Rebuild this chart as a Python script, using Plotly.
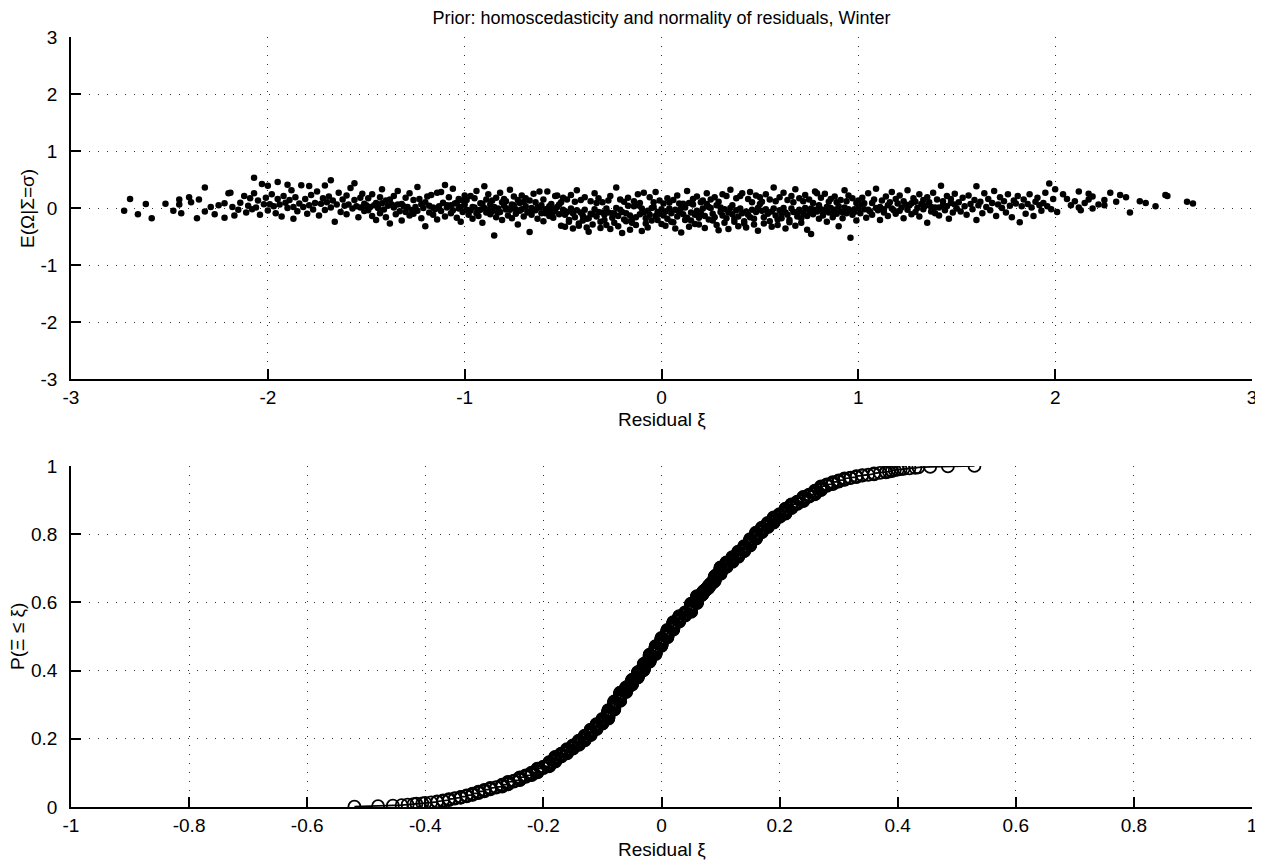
import plotly.graph_objects as go
import plotly.express as px
from plotly.subplots import make_subplots

# Scatter points (residual xi, E(Omega|Sigma=sigma)), split by x region
pts_far_left = [(-2.73, -0.05), (-2.70, 0.16), (-2.66, -0.11), (-2.62, 0.072), (-2.59, -0.18), (-2.52, 0.076),
                (-2.48, -0.05), (-2.45, 0.15), (-2.45, 0.06), (-2.44, -0.09), (-2.40, 0.19), (-2.39, 0.10),
                (-2.36, -0.18), (-2.35, 0.15), (-2.32, 0.36), (-2.32, -0.06), (-2.29, 0.02), (-2.27, -0.11),
                (-2.25, 0.05), (-2.22, 0.085), (-2.22, -0.17), (-2.20, 0.26), (-2.19, 0.27), (-2.18, 0.02),
                (-2.17, -0.13), (-2.15, -0.03), (-2.14, 0.093), (-2.12, 0.21), (-2.11, -0.08), (-2.10, 0.04),
                (-2.09, 0.17), (-2.08, -0.02)]

pts_left = [(-2.07, 0.53), (-2.07, 0.26), (-2.06, 0.01), (-2.05, 0.13), (-2.04, -0.12), (-2.03, 0.42),
            (-2.02, 0.068), (-2.01, 0.18), (-2.00, 0.39), (-2.00, -0.045), (-1.99, 0.067), (-1.98, 0.24),
            (-1.97, 0.03), (-1.96, -0.09), (-1.95, 0.455), (-1.95, 0.16), (-1.94, 0.06), (-1.93, -0.15),
            (-1.92, 0.21), (-1.91, 0.091), (-1.90, 0.41), (-1.90, 0.00), (-1.89, 0.14), (-1.88, 0.31),
            (-1.87, -0.19), (-1.87, 0.02), (-1.86, 0.19), (-1.85, -0.055), (-1.84, 0.081), (-1.83, 0.40),
            (-1.82, 0.02), (-1.81, 0.16), (-1.80, -0.10), (-1.79, 0.385), (-1.79, 0.05), (-1.78, 0.23),
            (-1.77, -0.025), (-1.76, 0.089), (-1.75, 0.29), (-1.74, -0.13), (-1.73, 0.077), (-1.72, 0.17),
            (-1.71, 0.395), (-1.71, -0.035), (-1.70, 0.10), (-1.69, 0.20), (-1.68, 0.485), (-1.68, 0.01),
            (-1.67, 0.13), (-1.66, -0.24), (-1.65, 0.06), (-1.64, 0.27), (-1.63, -0.07), (-1.62, 0.15),
            (-1.61, 0.04), (-1.60, 0.22), (-1.60, -0.11), (-1.59, 0.06), (-1.58, 0.35), (-1.57, -0.01),
            (-1.56, 0.435), (-1.56, 0.14), (-1.55, 0.03), (-1.54, -0.16), (-1.53, 0.18), (-1.53, 0.01),
            (-1.52, 0.25), (-1.51, -0.052), (-1.51, 0.073), (-1.50, 0.00)]

pts_mid_left = [(-1.50, 0.05), (-1.49, -0.041), (-1.49, 0.17), (-1.48, 0.02), (-1.47, -0.14), (-1.47, 0.24),
                (-1.46, 0.05), (-1.45, 0.086), (-1.45, -0.21), (-1.44, 0.00), (-1.43, 0.19), (-1.43, -0.09),
                (-1.42, 0.083), (-1.42, 0.33), (-1.41, -0.028), (-1.40, 0.13), (-1.40, -0.16), (-1.39, 0.04),
                (-1.38, -0.27), (-1.38, 0.15), (-1.37, 0.06), (-1.36, 0.01), (-1.36, 0.21), (-1.35, -0.11),
                (-1.34, 0.06), (-1.34, 0.30), (-1.33, -0.058), (-1.32, 0.07), (-1.32, -0.22), (-1.31, 0.03),
                (-1.30, 0.18), (-1.30, -0.07), (-1.29, 0.02), (-1.28, -0.13), (-1.28, 0.26), (-1.27, -0.033),
                (-1.26, 0.14), (-1.26, -0.10), (-1.25, 0.02), (-1.24, 0.37), (-1.24, -0.047), (-1.23, 0.16),
                (-1.22, -0.18), (-1.22, 0.066), (-1.21, 0.00), (-1.20, 0.10), (-1.20, -0.32), (-1.19, 0.20),
                (-1.18, -0.08), (-1.18, 0.04), (-1.17, 0.23), (-1.16, -0.12), (-1.16, 0.01), (-1.15, -0.022),
                (-1.14, 0.27), (-1.14, -0.20), (-1.13, 0.03), (-1.12, 0.28), (-1.12, -0.054), (-1.11, 0.092),
                (-1.10, 0.405), (-1.10, -0.15), (-1.09, 0.05), (-1.09, 0.01), (-1.08, 0.19), (-1.07, -0.09),
                (-1.07, 0.05), (-1.06, 0.34), (-1.06, -0.038), (-1.05, 0.078), (-1.04, -0.17), (-1.04, 0.094),
                (-1.03, -0.01), (-1.03, 0.16), (-1.02, -0.24), (-1.02, 0.02), (-1.01, 0.13), (-1.01, -0.07),
                (-1.00, 0.06), (-1.00, 0.22)]

pts_center_left = [(-0.99, -0.03), (-0.99, 0.14), (-0.98, -0.12), (-0.98, -0.05), (-0.97, 0.21), (-0.97, -0.043),
                   (-0.96, 0.02), (-0.96, -0.19), (-0.95, 0.01), (-0.95, 0.17), (-0.94, -0.09), (-0.94, 0.30),
                   (-0.93, -0.04), (-0.93, -0.14), (-0.92, 0.084), (-0.92, -0.031), (-0.91, 0.074), (-0.91, -0.26),
                   (-0.90, 0.38), (-0.90, 0.00), (-0.89, 0.15), (-0.89, -0.08), (-0.88, -0.03), (-0.88, 0.24),
                   (-0.87, -0.11), (-0.87, 0.06), (-0.86, -0.056), (-0.86, 0.13), (-0.85, -0.48), (-0.85, 0.02),
                   (-0.84, 0.18), (-0.84, -0.16), (-0.83, -0.08), (-0.83, -0.01), (-0.82, 0.27), (-0.82, -0.07),
                   (-0.81, 0.10), (-0.81, -0.21), (-0.80, 0.04), (-0.80, 0.16), (-0.79, -0.026), (-0.79, 0.12),
                   (-0.78, -0.13), (-0.78, -0.01), (-0.77, 0.32), (-0.77, -0.03), (-0.76, 0.06), (-0.76, -0.18),
                   (-0.75, 0.05), (-0.75, 0.20), (-0.74, -0.10), (-0.74, -0.02), (-0.73, 0.14), (-0.73, -0.29),
                   (-0.72, 0.088), (-0.72, -0.049), (-0.71, 0.22), (-0.71, -0.02), (-0.70, 0.11), (-0.70, -0.15),
                   (-0.69, 0.03), (-0.69, 0.17), (-0.68, -0.08), (-0.68, -0.06), (-0.67, -0.42), (-0.67, 0.13),
                   (-0.66, 0.00), (-0.66, -0.12), (-0.65, 0.25), (-0.65, -0.04), (-0.64, -0.04), (-0.64, 0.10),
                   (-0.63, -0.19), (-0.63, 0.01), (-0.62, 0.01), (-0.62, 0.29), (-0.61, -0.09), (-0.61, 0.05),
                   (-0.60, -0.23), (-0.60, 0.15), (-0.59, -0.02), (-0.59, -0.09), (-0.58, 0.29), (-0.58, -0.07),
                   (-0.57, 0.03), (-0.57, -0.14), (-0.56, 0.071), (-0.56, -0.01), (-0.55, -0.07), (-0.55, -0.17),
                   (-0.54, 0.21), (-0.54, -0.05), (-0.53, 0.02), (-0.53, 0.22), (-0.52, -0.11), (-0.52, 0.06),
                   (-0.51, -0.31), (-0.51, 0.10), (-0.50, -0.03), (-0.50, 0.18)]

pts_center = [(-0.49, -0.33), (-0.49, -0.12), (-0.48, 0.15), (-0.48, -0.07), (-0.47, -0.21), (-0.47, -0.24),
              (-0.46, -0.01), (-0.46, 0.23), (-0.45, -0.09), (-0.45, -0.36), (-0.44, -0.16), (-0.44, 0.11),
              (-0.43, -0.04), (-0.43, 0.31), (-0.42, -0.27), (-0.42, -0.31), (-0.41, -0.08), (-0.41, 0.14),
              (-0.40, -0.22), (-0.40, -0.13), (-0.39, 0.19), (-0.39, -0.03), (-0.38, -0.34), (-0.38, -0.19),
              (-0.37, -0.18), (-0.37, -0.415), (-0.36, 0.12), (-0.36, -0.10), (-0.35, -0.29), (-0.35, -0.11),
              (-0.34, 0.26), (-0.34, -0.02), (-0.33, -0.15), (-0.33, 0.09), (-0.32, -0.07), (-0.32, 0.17),
              (-0.31, -0.24), (-0.31, -0.35), (-0.30, -0.08), (-0.30, 0.10), (-0.29, -0.12), (-0.29, -0.21),
              (-0.28, -0.01), (-0.28, -0.30), (-0.27, 0.13), (-0.27, -0.08), (-0.26, -0.37), (-0.26, 0.21),
              (-0.25, -0.17), (-0.25, -0.09), (-0.24, -0.26), (-0.24, -0.10), (-0.23, 0.00), (-0.23, 0.36),
              (-0.22, -0.14), (-0.22, -0.32), (-0.21, -0.03), (-0.21, 0.15), (-0.20, -0.44), (-0.20, -0.07),
              (-0.19, 0.11), (-0.19, -0.20), (-0.18, -0.23), (-0.18, -0.09), (-0.17, 0.18), (-0.17, 0.04),
              (-0.16, -0.13), (-0.16, -0.38), (-0.15, -0.26), (-0.15, -0.19), (-0.14, 0.12), (-0.14, 0.03),
              (-0.13, -0.16), (-0.13, -0.30), (-0.12, 0.24), (-0.12, 0.05), (-0.11, -0.11), (-0.11, 0.09),
              (-0.10, -0.01), (-0.10, -0.405), (-0.09, 0.27), (-0.09, -0.08), (-0.08, -0.27), (-0.08, -0.18),
              (-0.07, -0.34), (-0.07, -0.05), (-0.06, 0.19), (-0.06, -0.12), (-0.05, 0.00), (-0.05, -0.22),
              (-0.04, 0.10), (-0.04, 0.02), (-0.03, -0.14), (-0.03, 0.28), (-0.02, -0.07), (-0.02, -0.21),
              (-0.01, -0.10), (-0.01, 0.13), (0.00, -0.02), (0.00, -0.28)]

pts_center_right = [(0.01, 0.08), (0.01, -0.13), (0.02, -0.31), (0.02, -0.06), (0.03, 0.17), (0.03, -0.19),
                    (0.04, -0.01), (0.04, 0.095), (0.05, -0.09), (0.05, -0.24), (0.06, -0.25), (0.06, 0.14),
                    (0.07, -0.03), (0.07, -0.36), (0.08, -0.15), (0.08, 0.22), (0.09, -0.07), (0.09, 0.079),
                    (0.10, 0.00), (0.10, -0.43), (0.11, 0.075), (0.11, -0.11), (0.12, -0.21), (0.12, 0.01),
                    (0.13, 0.30), (0.13, -0.17), (0.14, -0.33), (0.14, 0.09), (0.15, -0.08), (0.15, -0.22),
                    (0.16, 0.16), (0.16, 0.06), (0.17, -0.28), (0.17, -0.12), (0.18, 0.20), (0.18, -0.05),
                    (0.19, -0.17), (0.19, -0.29), (0.20, 0.10), (0.20, -0.09), (0.21, -0.01), (0.21, 0.13),
                    (0.22, -0.14), (0.22, -0.35), (0.23, 0.26), (0.23, 0.069), (0.24, 0.02), (0.24, -0.20),
                    (0.25, 0.00), (0.25, 0.15), (0.26, -0.10), (0.26, -0.22), (0.27, -0.16), (0.27, 0.19),
                    (0.28, 0.05), (0.28, -0.30), (0.29, -0.39), (0.29, 0.11), (0.30, 0.01), (0.30, -0.07),
                    (0.31, 0.24), (0.31, -0.13), (0.32, -0.26), (0.32, -0.02), (0.33, 0.21), (0.33, -0.18),
                    (0.34, -0.37), (0.34, -0.08), (0.35, 0.32), (0.35, 0.00), (0.36, -0.11), (0.36, 0.05),
                    (0.37, -0.24), (0.37, -0.19), (0.38, 0.17), (0.38, -0.04), (0.39, -0.32), (0.39, -0.15),
                    (0.40, 0.21), (0.40, -0.01), (0.41, -0.09), (0.41, 0.26), (0.42, -0.23), (0.42, -0.27),
                    (0.43, -0.34), (0.43, -0.06), (0.44, 0.16), (0.44, -0.12), (0.45, -0.16), (0.45, 0.28),
                    (0.46, -0.03), (0.46, 0.10), (0.47, -0.19), (0.47, -0.29), (0.48, 0.22), (0.48, -0.07),
                    (0.49, 0.00), (0.49, -0.40), (0.50, 0.07), (0.50, 0.19)]

pts_mid_right = [(0.51, -0.05), (0.51, 0.11), (0.52, -0.27), (0.52, -0.16), (0.53, 0.24), (0.53, -0.02),
                 (0.54, -0.08), (0.54, -0.10), (0.55, 0.15), (0.55, -0.23), (0.56, -0.33), (0.56, -0.06),
                 (0.57, 0.36), (0.57, -0.01), (0.58, -0.13), (0.58, 0.12), (0.59, -0.20), (0.59, -0.30),
                 (0.60, 0.19), (0.60, -0.04), (0.61, -0.09), (0.61, -0.18), (0.62, 0.00), (0.62, 0.27),
                 (0.63, -0.08), (0.63, -0.36), (0.64, 0.14), (0.64, -0.12), (0.65, -0.25), (0.65, -0.21),
                 (0.66, 0.21), (0.66, -0.01), (0.67, 0.10), (0.67, -0.07), (0.68, 0.33), (0.68, -0.31),
                 (0.69, -0.15), (0.69, -0.07), (0.70, -0.03), (0.70, 0.17), (0.71, -0.26), (0.71, -0.18),
                 (0.72, 0.12), (0.72, -0.09), (0.73, 0.00), (0.73, 0.23), (0.74, -0.14), (0.74, -0.38),
                 (0.75, -0.05), (0.75, 0.15), (0.76, -0.01), (0.76, -0.455), (0.77, 0.09), (0.77, -0.11),
                 (0.78, 0.29), (0.78, -0.03), (0.79, -0.06), (0.79, 0.26), (0.80, -0.19), (0.80, 0.05),
                 (0.81, 0.18), (0.81, -0.02), (0.82, -0.08), (0.82, -0.13), (0.83, 0.25), (0.83, -0.04),
                 (0.84, 0.02), (0.84, -0.24), (0.85, 0.11), (0.85, -0.08), (0.86, 0.16), (0.86, 0.00),
                 (0.87, -0.16), (0.87, -0.06), (0.88, 0.20), (0.88, -0.03), (0.89, 0.10), (0.89, -0.10),
                 (0.90, 0.03), (0.90, -0.32), (0.91, 0.14), (0.91, -0.06), (0.92, -0.07), (0.92, -0.18),
                 (0.93, 0.31), (0.93, 0.01), (0.94, -0.09), (0.94, 0.12), (0.95, -0.02), (0.95, 0.22),
                 (0.96, -0.52), (0.96, -0.05), (0.97, -0.12), (0.97, 0.17), (0.98, -0.02), (0.98, -0.07),
                 (0.99, 0.09), (0.99, -0.22), (1.00, 0.13), (1.00, -0.01)]

pts_right = [(1.01, 0.06), (1.01, -0.09), (1.02, 0.18), (1.03, -0.02), (1.03, 0.083), (1.04, -0.17),
             (1.05, -0.03), (1.05, 0.26), (1.06, -0.06), (1.07, 0.087), (1.07, -0.12), (1.08, 0.15),
             (1.09, 0.00), (1.09, 0.34), (1.10, -0.04), (1.11, 0.02), (1.11, -0.21), (1.12, 0.13),
             (1.13, -0.02), (1.13, -0.08), (1.14, 0.20), (1.15, 0.05), (1.15, -0.14), (1.16, 0.10),
             (1.17, -0.01), (1.17, 0.28), (1.18, -0.04), (1.19, -0.10), (1.19, 0.16), (1.20, 0.08),
             (1.21, -0.05), (1.21, 0.22), (1.22, 0.01), (1.23, -0.18), (1.23, 0.12), (1.24, 0.06),
             (1.25, -0.03), (1.25, 0.31), (1.26, 0.05), (1.27, -0.11), (1.27, 0.082), (1.28, 0.17),
             (1.29, -0.07), (1.29, 0.11), (1.30, 0.00), (1.31, 0.24), (1.31, -0.15), (1.32, 0.071),
             (1.33, 0.14), (1.33, -0.02), (1.34, 0.04), (1.35, -0.26), (1.35, 0.19), (1.36, 0.10),
             (1.37, -0.06), (1.37, 0.02), (1.38, 0.27), (1.39, 0.01), (1.39, -0.09), (1.40, 0.15),
             (1.41, 0.01), (1.41, -0.13), (1.42, 0.39), (1.43, 0.05), (1.43, 0.12), (1.44, -0.04),
             (1.45, 0.21), (1.45, 0.03), (1.46, -0.19), (1.47, 0.09), (1.47, 0.16), (1.48, -0.08),
             (1.49, 0.06), (1.49, 0.25), (1.50, -0.01)]

pts_far_right = [(1.51, 0.10), (1.52, -0.06), (1.53, 0.18), (1.54, 0.03), (1.55, -0.12), (1.56, 0.22),
                 (1.57, 0.07), (1.58, -0.02), (1.59, 0.14), (1.60, 0.38), (1.60, -0.21), (1.61, 0.05),
                 (1.62, 0.11), (1.63, -0.09), (1.64, 0.26), (1.65, 0.02), (1.66, 0.16), (1.67, -0.04),
                 (1.68, 0.09), (1.69, 0.30), (1.70, -0.14), (1.71, 0.06), (1.72, 0.19), (1.73, 0.00),
                 (1.74, 0.12), (1.75, -0.08), (1.76, 0.24), (1.77, 0.04), (1.78, -0.16), (1.79, 0.13),
                 (1.80, 0.08), (1.81, 0.21), (1.82, -0.25), (1.83, 0.03), (1.84, 0.15), (1.85, -0.10),
                 (1.86, 0.07), (1.87, 0.24), (1.88, 0.01), (1.89, -0.14), (1.90, 0.11), (1.91, 0.18),
                 (1.92, 0.05), (1.93, -0.05), (1.94, 0.09), (1.95, 0.27), (1.96, 0.03), (1.97, 0.43),
                 (1.98, -0.02), (1.99, 0.16), (2.00, 0.33)]

pts_tail_right = [(2.01, -0.07), (2.04, 0.24), (2.06, 0.16), (2.08, 0.05), (2.10, 0.12), (2.12, 0.29),
                  (2.12, 0.01), (2.13, -0.04), (2.15, 0.09), (2.17, 0.25), (2.17, 0.15), (2.19, -0.01),
                  (2.19, 0.20), (2.22, 0.06), (2.25, 0.14), (2.25, 0.05), (2.28, 0.27), (2.31, 0.11),
                  (2.33, 0.23), (2.36, 0.19), (2.38, -0.08), (2.43, 0.12), (2.46, 0.09), (2.51, 0.03),
                  (2.56, 0.23), (2.57, 0.21), (2.67, 0.11), (2.70, 0.08)]

# Tick labels
top_ticks = [-3, -2, -1, 0, 1, 2, 3]
top_tick_text = ["-3", "-2", "-1", "0", "1", "2", "3"]
bottom_x_ticks = [-1, -0.8, -0.6, -0.4, -0.2, 0, 0.2, 0.4, 0.6, 0.8, 1]
bottom_x_text = ["-1", "-0.8", "-0.6", "-0.4", "-0.2", "0", "0.2", "0.4", "0.6", "0.8", "1"]
bottom_y_ticks = [0, 0.2, 0.4, 0.6, 0.8, 1]
bottom_y_text = ["0", "0.2", "0.4", "0.6", "0.8", "1"]

all_pts = (pts_far_left + pts_left + pts_mid_left + pts_center_left + pts_center
           + pts_center_right + pts_mid_right + pts_right + pts_far_right + pts_tail_right)
resid_x = [p[0] for p in all_pts]
resid_y = [p[1] for p in all_pts]

FONT = "Liberation Sans, Arial, Helvetica, sans-serif"

fig = make_subplots(rows=2, cols=1)

# Top: scatter of residuals
fig.add_trace(go.Scatter(
    x=resid_x, y=resid_y, mode="markers",
    marker=dict(color="black", size=6.5, line=dict(width=0)),
), row=1, col=1)

# Bottom: empirical CDF of the same residuals, computed by plotly express
ecdf = px.ecdf(x=resid_y, markers=True)
ecdf_trace = ecdf.data[0]
ecdf_trace.update(
    mode="lines+markers",
    line=dict(color="black", width=1.8, shape="linear"),
    marker=dict(symbol="circle-open", size=12, color="black", line=dict(width=1.8, color="black")),
    showlegend=False,
)
fig.add_trace(ecdf_trace, row=2, col=1)

axis_style = dict(
    showline=True, linecolor="black", linewidth=1.5, mirror=False,
    ticks="inside", ticklen=10, tickwidth=1.5, tickcolor="black",
    showgrid=True, gridcolor="#333333", gridwidth=1, griddash="1px,8px",
    zeroline=False, automargin=False,
    tickfont=dict(size=19, color="black", family=FONT),
)

fig.update_xaxes(axis_style, ticklabelstandoff=0)
fig.update_yaxes(axis_style, ticklabelstandoff=8)

fig.update_xaxes(range=[-3, 3], tickvals=top_ticks, ticktext=top_tick_text, row=1, col=1)
fig.update_yaxes(range=[-3, 3], tickvals=top_ticks, ticktext=top_tick_text, domain=[0.5558, 1], row=1, col=1)
fig.update_xaxes(range=[-1, 1], tickvals=bottom_x_ticks, ticktext=bottom_x_text, row=2, col=1)
fig.update_yaxes(range=[0, 1], tickvals=bottom_y_ticks, ticktext=bottom_y_text, domain=[0, 0.4429], row=2, col=1)

# The page body adds an 8px offset, so the figure is 8px smaller than the window
fig.update_layout(
    width=1255, height=855,
    margin=dict(l=63, r=11, t=29, b=56, autoexpand=False),
    plot_bgcolor="white", paper_bgcolor="white",
    showlegend=False,
    font=dict(family=FONT, size=19, color="black"),
    title=dict(text="Prior: homoscedasticity and normality of residuals, Winter",
               x=0.5, xref="paper", xanchor="center",
               y=1 - 10 / 855, yanchor="middle", font=dict(size=18, color="black")),
)

# Axis titles
fig.add_annotation(text="Residual ξ", xref="paper", yref="paper", x=0.5, y=0.5026,
                   xanchor="center", yanchor="middle", showarrow=False, font=dict(size=19))
fig.add_annotation(text="Residual ξ", xref="paper", yref="paper", x=0.5, y=-0.0558,
                   xanchor="center", yanchor="middle", showarrow=False, font=dict(size=19))
fig.add_annotation(text="E(Ω|Σ=σ)", xref="paper", yref="paper", x=-0.0373, y=0.7779,
                   xanchor="center", yanchor="middle", textangle=-90, showarrow=False, font=dict(size=19))
fig.add_annotation(text="P(Ξ ≤ ξ)", xref="paper", yref="paper", x=-0.0449, y=0.2221,
                   xanchor="center", yanchor="middle", textangle=-90, showarrow=False, font=dict(size=19))

fig.write_html("out.html")
